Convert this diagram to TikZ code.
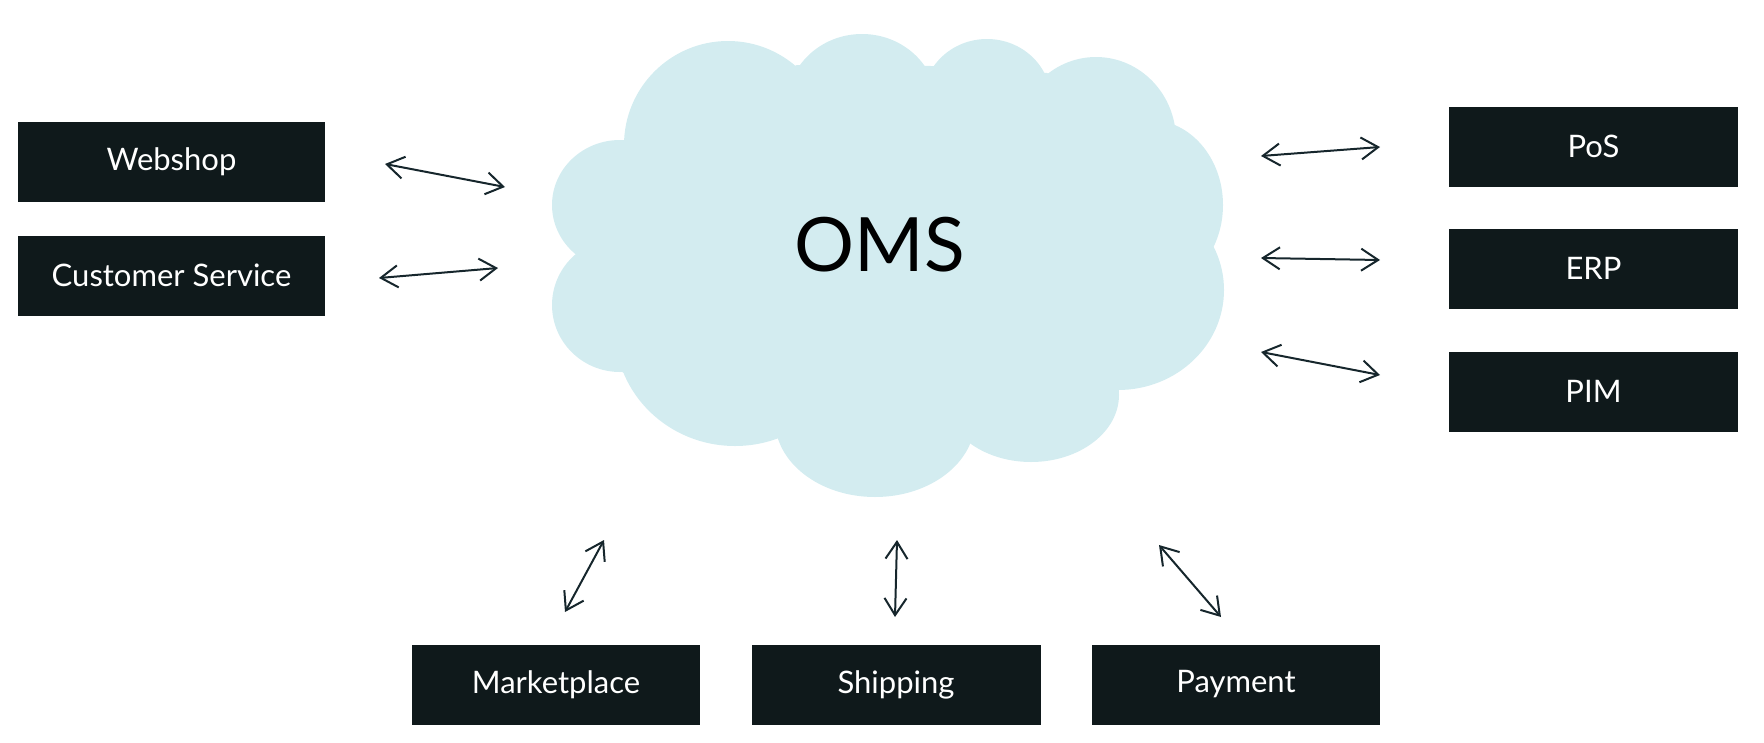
\documentclass[tikz,border=0pt]{standalone}
\usepackage{fontspec}
\setmainfont{Lato}
\usetikzlibrary{arrows.meta}
\definecolor{cloudblue}{HTML}{D3ECF0}
\definecolor{boxdark}{HTML}{0F191B}
\definecolor{arrowdark}{HTML}{16262C}
\tikzset{
  sysbox/.style={fill=boxdark, text=white, inner sep=0pt, minimum height=80pt,
    font=\fontsize{31}{36}\selectfont},
  link/.style={draw=arrowdark, line width=2pt,
    {Straight Barb[length=17pt,width=22pt]}-{Straight Barb[length=17pt,width=22pt]}},
}
\begin{document}
\begin{tikzpicture}[x=1pt,y=-1pt]
\useasboundingbox (0,0) rectangle (1764,742);
% cloud
\begin{scope}[fill=cloudblue]
\fill (625,140) -- (797,65) -- (931,66) -- (1047,73) -- (1173,127) -- (1211,242)
  -- (1118,389) -- (969.5,441) -- (779,437) -- (619.5,371) -- (578,256) -- cycle;
\fill (728,145) ellipse [x radius=104, y radius=104];
\fill (862,105) ellipse [x radius=75, y radius=71];
\fill (987,100) ellipse [x radius=64, y radius=61];
\fill (1096,140) ellipse [x radius=80, y radius=83];
\fill (1150,205) ellipse [x radius=73, y radius=85];
\fill (1118,290) ellipse [x radius=106, y radius=100];
\fill (1031,395) ellipse [x radius=88, y radius=67];
\fill (875,420) ellipse [x radius=100, y radius=77];
\fill (735,330) ellipse [x radius=120, y radius=116];
\fill (620,305) ellipse [x radius=68, y radius=67];
\fill (620,205) ellipse [x radius=68, y radius=65];
\end{scope}
\node (oms) at (880,245) [inner sep=0pt, font=\fontsize{75}{80}\selectfont, text=black] {OMS};
% boxes
\node[sysbox, minimum width=307pt] (web) at (171.5,162) {Webshop};
\node[sysbox, minimum width=307pt] (cs) at (171.5,275.5) {Customer Service};
\node[sysbox, minimum width=289pt] (pos) at (1593.5,146.5) {PoS};
\node[sysbox, minimum width=289pt] (erp) at (1593.5,268.5) {ERP};
\node[sysbox, minimum width=289pt] (pim) at (1593.5,391.5) {PIM};
\node[sysbox, minimum width=288pt] (mkt) at (556,684.5) {Marketplace};
\node[sysbox, minimum width=289pt] (ship) at (896,684.5) {Shipping};
\node[sysbox, minimum width=288pt] (pay) at (1236,684.5) {Payment};
% arrow ends
\coordinate (w1) at (385,164);   \coordinate (w2) at (505,187);
\coordinate (c1) at (379,278);   \coordinate (c2) at (498,268);
\coordinate (p1) at (1261,156);  \coordinate (p2) at (1380,147);
\coordinate (e1) at (1261,258);  \coordinate (e2) at (1380,260);
\coordinate (i1) at (1261,352);  \coordinate (i2) at (1380,375);
\coordinate (m1) at (604,540);   \coordinate (m2) at (565,612);
\coordinate (s1) at (897,540);   \coordinate (s2) at (895,617);
\coordinate (y1) at (1159,545);  \coordinate (y2) at (1221,617);
\draw[link] (w1) -- (w2);
\draw[link] (c1) -- (c2);
\draw[link] (p1) -- (p2);
\draw[link] (e1) -- (e2);
\draw[link] (i1) -- (i2);
\draw[link] (m1) -- (m2);
\draw[link] (s1) -- (s2);
\draw[link] (y1) -- (y2);
\end{tikzpicture}
\end{document}
